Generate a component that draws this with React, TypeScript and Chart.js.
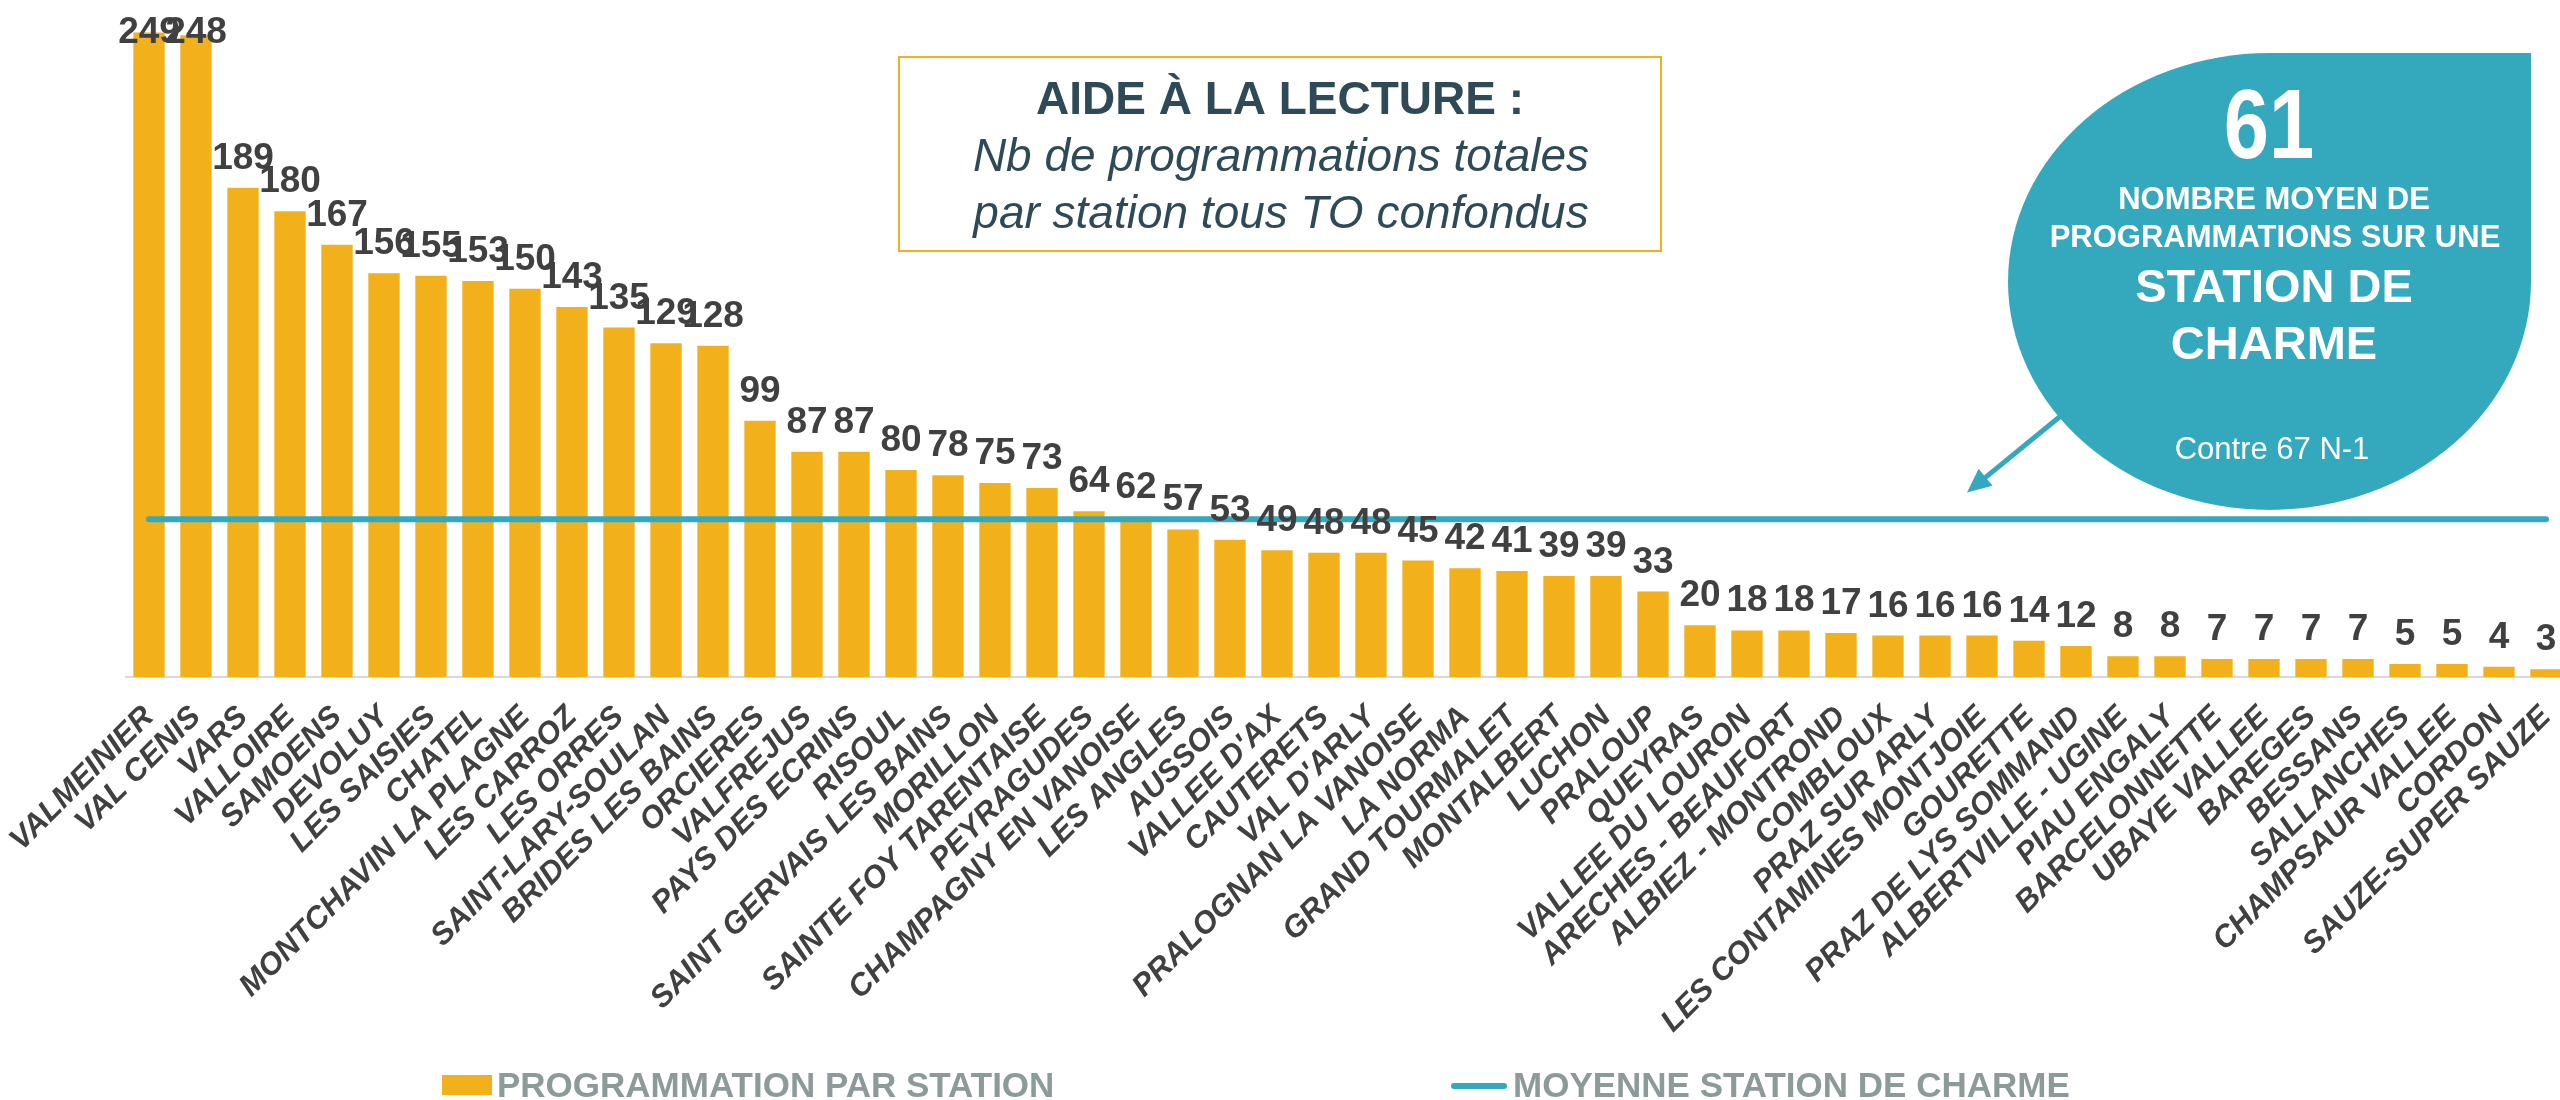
import React, { useEffect, useRef } from 'react';
import { Chart, registerables } from 'chart.js';

Chart.register(...registerables);

// ---------- DATA ----------
const STATIONS: string[] = [
  'VALMEINIER', 'VAL CENIS', 'VARS', 'VALLOIRE', 'SAMOENS', 'DEVOLUY', 'LES SAISIES', 'CHATEL',
  'MONTCHAVIN LA PLAGNE', 'LES CARROZ', 'LES ORRES', 'SAINT-LARY-SOULAN', 'BRIDES LES BAINS',
  'ORCIERES', 'VALFREJUS', 'PAYS DES ECRINS', 'RISOUL', 'SAINT GERVAIS LES BAINS', 'MORILLON',
  'SAINTE FOY TARENTAISE', 'PEYRAGUDES', 'CHAMPAGNY EN VANOISE', 'LES ANGLES', 'AUSSOIS',
  "VALLEE D'AX", 'CAUTERETS', "VAL D'ARLY", 'PRALOGNAN LA VANOISE', 'LA NORMA', 'GRAND TOURMALET',
  'MONTALBERT', 'LUCHON', 'PRALOUP', 'QUEYRAS', 'VALLEE DU LOURON', 'ARECHES - BEAUFORT',
  'ALBIEZ - MONTROND', 'COMBLOUX', 'PRAZ SUR ARLY', 'LES CONTAMINES MONTJOIE', 'GOURETTE',
  'PRAZ DE LYS SOMMAND', 'ALBERTVILLE - UGINE', 'PIAU ENGALY', 'BARCELONNETTE', 'UBAYE VALLEE',
  'BAREGES', 'BESSANS', 'SALLANCHES', 'CHAMPSAUR VALLEE', 'CORDON', 'SAUZE-SUPER SAUZE',
];

const PROGRAMMATIONS: number[] = [
  249, 248, 189, 180, 167, 156, 155, 153, 150, 143, 135, 129, 128, 99, 87, 87, 80, 78, 75, 73,
  64, 62, 57, 53, 49, 48, 48, 45, 42, 41, 39, 39, 33, 20, 18, 18, 17, 16, 16, 16, 14, 12, 8, 8,
  7, 7, 7, 7, 5, 5, 4, 3,
];

const MEAN_VALUE = 61;
const PREVIOUS_MEAN = 67;
const Y_MIN = 0;
const Y_MAX = 250;

const SERIES_BAR_LABEL = 'PROGRAMMATION PAR STATION';
const SERIES_LINE_LABEL = 'MOYENNE STATION DE CHARME';

const NOTE_TITLE = 'AIDE À LA LECTURE :';
const NOTE_LINES: string[] = ['Nb de programmations totales', 'par station tous TO confondus'];

const BUBBLE_SUB_LINES: string[] = ['NOMBRE MOYEN DE', 'PROGRAMMATIONS SUR UNE'];
const BUBBLE_MAIN_LINES: string[] = ['STATION DE', 'CHARME'];
const BUBBLE_FOOT = `Contre ${PREVIOUS_MEAN} N-1`;

// ---------- STYLE ----------
const FONT = '"Liberation Sans", Arial, Helvetica, sans-serif';
const BAR_COLOR = '#F2B01B';
const TEAL = '#34A9BE';
const LABEL_COLOR = '#404040';
const LEGEND_COLOR = '#8C9B9A';
const NOTE_COLOR = '#2F4A57';
const CANVAS_W = 2600;
const CANVAS_H = 1100;

const valueLabelPlugin = {
  id: 'valueLabels',
  afterDatasetsDraw(chart: any) {
    const ctx = chart.ctx as CanvasRenderingContext2D;
    const meta = chart.getDatasetMeta(1);
    const data = chart.data.datasets[1].data as number[];
    ctx.save();
    ctx.font = `bold 37px ${FONT}`;
    ctx.fillStyle = LABEL_COLOR;
    ctx.textAlign = 'center';
    ctx.textBaseline = 'alphabetic';
    meta.data.forEach((bar: any, i: number) => {
      const baseline = Math.max(bar.y - 19, 43);
      ctx.fillText(String(data[i]), bar.x, baseline);
    });
    ctx.restore();
  },
};

const overlayPlugin = {
  id: 'overlay',
  afterDraw(chart: any) {
    const ctx = chart.ctx as CanvasRenderingContext2D;
    ctx.save();

    // ---- Reading-aid note box ----
    ctx.fillStyle = '#FFFFFF';
    ctx.fillRect(899, 57, 762, 194);
    ctx.strokeStyle = BAR_COLOR;
    ctx.lineWidth = 2;
    ctx.strokeRect(899, 57, 762, 194);
    ctx.fillStyle = NOTE_COLOR;
    ctx.textAlign = 'center';
    ctx.textBaseline = 'alphabetic';
    ctx.font = `bold 46px ${FONT}`;
    ctx.fillText(NOTE_TITLE, 1280, 114);
    ctx.font = `italic 46px ${FONT}`;
    ctx.fillText(NOTE_LINES[0], 1281, 171);
    ctx.fillText(NOTE_LINES[1], 1281, 228);

    // ---- Bubble ----
    const cx = 2269.5, cy = 281.5, rx = 261.5, ry = 228.5;
    ctx.fillStyle = TEAL;
    ctx.beginPath();
    ctx.moveTo(cx, cy - ry);
    ctx.lineTo(cx + rx, cy - ry);
    ctx.lineTo(cx + rx, cy);
    ctx.ellipse(cx, cy, rx, ry, 0, 0, Math.PI * 1.5);
    ctx.closePath();
    ctx.fill();

    // arrow
    const sx = 2060, sy = 416.5, tx = 1967, ty = 492.5;
    const dx = tx - sx, dy = ty - sy;
    const len = Math.hypot(dx, dy);
    const ux = dx / len, uy = dy / len;
    const headLen = 24, headHalf = 11;
    ctx.strokeStyle = TEAL;
    ctx.lineWidth = 5;
    ctx.beginPath();
    ctx.moveTo(sx, sy);
    ctx.lineTo(tx - ux * headLen * 0.8, ty - uy * headLen * 0.8);
    ctx.stroke();
    ctx.beginPath();
    ctx.moveTo(tx, ty);
    ctx.lineTo(tx - ux * headLen - uy * headHalf, ty - uy * headLen + ux * headHalf);
    ctx.lineTo(tx - ux * headLen + uy * headHalf, ty - uy * headLen - ux * headHalf);
    ctx.closePath();
    ctx.fill();

    // bubble texts
    ctx.fillStyle = '#FFFFFF';
    ctx.textAlign = 'center';
    ctx.save();
    ctx.translate(2269, 157.5);
    ctx.scale(0.82, 1);
    ctx.font = `bold 99px ${FONT}`;
    ctx.fillText(String(MEAN_VALUE), 0, 0);
    ctx.restore();
    ctx.font = `bold 31px ${FONT}`;
    ctx.fillText(BUBBLE_SUB_LINES[0], 2274, 208.5);
    ctx.fillText(BUBBLE_SUB_LINES[1], 2275, 247);
    ctx.font = `bold 47px ${FONT}`;
    ctx.fillText(BUBBLE_MAIN_LINES[0], 2274, 302);
    ctx.fillText(BUBBLE_MAIN_LINES[1], 2274, 359);
    ctx.font = `31px ${FONT}`;
    ctx.fillText(BUBBLE_FOOT, 2272, 459);

    // ---- Legend ----
    ctx.textAlign = 'left';
    ctx.fillStyle = BAR_COLOR;
    ctx.fillRect(442, 1075, 50, 20);
    ctx.strokeStyle = TEAL;
    ctx.lineWidth = 6;
    ctx.lineCap = 'round';
    ctx.beginPath();
    ctx.moveTo(1454, 1086);
    ctx.lineTo(1504, 1086);
    ctx.stroke();
    ctx.fillStyle = LEGEND_COLOR;
    ctx.font = `bold 35px ${FONT}`;
    ctx.fillText(SERIES_BAR_LABEL, 497, 1097);
    ctx.fillText(SERIES_LINE_LABEL, 1513, 1097);

    ctx.restore();
  },
};

export default function App() {
  const canvasRef = useRef<HTMLCanvasElement | null>(null);

  useEffect(() => {
    if (!canvasRef.current) return;
    const chart = new Chart(canvasRef.current, {
      type: 'bar',
      data: {
        labels: STATIONS,
        datasets: [
          {
            type: 'line',
            label: SERIES_LINE_LABEL,
            data: STATIONS.map(() => MEAN_VALUE),
            borderColor: TEAL,
            backgroundColor: TEAL,
            borderWidth: 6,
            borderCapStyle: 'round',
            pointRadius: 0,
            pointHoverRadius: 0,
            fill: false,
            order: 0,
          } as any,
          {
            type: 'bar',
            label: SERIES_BAR_LABEL,
            data: PROGRAMMATIONS,
            backgroundColor: BAR_COLOR,
            borderWidth: 0,
            barPercentage: 0.667,
            categoryPercentage: 1,
            order: 1,
          },
        ],
      },
      options: {
        responsive: false,
        animation: false,
        devicePixelRatio: 1,
        layout: { padding: { left: 125.5, right: CANVAS_W - 2569.5, top: 30, bottom: 0 } },
        plugins: {
          legend: { display: false },
          tooltip: { enabled: false },
        },
        scales: {
          x: {
            offset: true,
            grid: { display: false, drawTicks: false },
            border: { display: true, color: '#D9D9D9', width: 2 },
            ticks: {
              autoSkip: false,
              minRotation: 45,
              maxRotation: 45,
              padding: 22,
              color: LABEL_COLOR,
              font: { family: FONT, size: 31, weight: 'bold', style: 'italic' },
            },
            afterFit: (scale: any) => {
              scale.height = CANVAS_H - 677;
              scale.paddingLeft = 0;
              scale.paddingRight = 0;
            },
          },
          y: {
            display: false,
            min: Y_MIN,
            max: Y_MAX,
          },
        },
      },
      plugins: [valueLabelPlugin, overlayPlugin],
    });
    return () => chart.destroy();
  }, []);

  return (
    <div style={{ position: 'fixed', left: 0, top: 0, width: 2560, height: 1100, overflow: 'hidden', background: '#fff' }}>
      <canvas ref={canvasRef} width={CANVAS_W} height={CANVAS_H} style={{ width: CANVAS_W, height: CANVAS_H, display: 'block' }} />
    </div>
  );
}
